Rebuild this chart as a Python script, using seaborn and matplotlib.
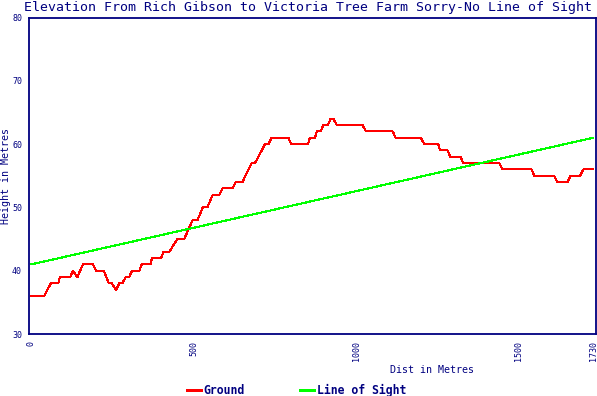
import matplotlib
matplotlib.use("Agg")
import matplotlib.pyplot as plt
import seaborn as sns
import pandas as pd

# ground profile (distance in m, elevation in m)
ground_dist = [0, 40, 60, 83, 88, 120, 128, 142, 159, 190, 200, 223, 239, 248,
               261, 271, 280, 291, 302, 310, 333, 340, 368, 371, 400, 407, 425,
               450, 471, 497, 512, 528, 542, 559, 579, 589, 619, 630, 650, 679,
               689, 720, 730, 740, 792, 800, 852, 858, 874, 879, 891, 899, 913,
               922, 930, 941, 1020, 1031, 1113, 1122, 1200, 1210, 1253, 1259,
               1282, 1290, 1322, 1330, 1441, 1451, 1541, 1549, 1610, 1620, 1651,
               1661, 1690, 1700, 1730]
ground_elev = [36, 36, 38, 38, 39, 39, 40, 39, 41, 41, 40, 40, 38, 38,
               37, 38, 38, 39, 39, 40, 40, 41, 41, 42, 42, 43, 43,
               45, 45, 48, 48, 50, 50, 52, 52, 53, 53, 54, 54, 57,
               57, 60, 60, 61, 61, 60, 60, 61, 61, 62, 62, 63, 63,
               64, 64, 63, 63, 62, 62, 61, 61, 60, 60, 59,
               59, 58, 58, 57, 57, 56, 56, 55, 55, 54, 54,
               55, 55, 56, 56]

# line of sight end points
los_dist = [0, 1730]
los_elev = [41, 61]

x_ticks = [0, 500, 1000, 1500, 1730]
y_ticks = [30, 40, 50, 60, 70, 80]

NAVY = "#000080"

sns.set_style("white")
plt.rcParams["font.family"] = ["DejaVu Sans Mono"]
plt.rcParams["lines.antialiased"] = False

ground = pd.DataFrame({"dist": ground_dist, "elev": ground_elev})
los = pd.DataFrame({"dist": los_dist, "elev": los_elev})

fig = plt.figure(figsize=(5.97, 3.96), dpi=100)
ax = fig.add_axes([29 / 597, 1 - 334 / 396, 567 / 597, 316.5 / 396])

sns.lineplot(data=ground, x="dist", y="elev", color="#ff0000", lw=0.8,
             estimator=None, sort=False, label="Ground", ax=ax)
sns.lineplot(data=los, x="dist", y="elev", color="#00ff00", lw=0.8,
             estimator=None, sort=False, label="Line of Sight", ax=ax)

ax.set_xlim(-7, 1739)
ax.set_ylim(30, 80)
ax.set_xticks(x_ticks)
ax.set_yticks(y_ticks)
ax.set_xticklabels([str(t) for t in x_ticks], rotation=90, va="top")
ax.tick_params(direction="in", length=3.5, width=1.2, colors=NAVY,
               labelsize=6, pad=5)
for side in ["left", "bottom", "right", "top"]:
    ax.spines[side].set_color(NAVY)
    ax.spines[side].set_linewidth(1.3)
ax.set_xlabel("")
ax.set_ylabel("")

fig.text(308 / 597, 0.982, "Elevation From Rich Gibson to Victoria Tree Farm Sorry-No Line of Sight",
         ha="center", va="center", color=NAVY, fontsize=9.5)
fig.text(6 / 597, 1 - 176 / 396, "Height in Metres", rotation=90,
         ha="center", va="center", color=NAVY, fontsize=7.2)
fig.text(432 / 597, 1 - 370 / 396, "Dist in Metres",
         ha="center", va="center", color=NAVY, fontsize=7.2)

ax.get_legend().remove()
handles, labels = ax.get_legend_handles_labels()
leg = fig.legend(handles, labels, loc="center", bbox_to_anchor=(0.497, 1 - 390 / 396),
                 ncol=2, frameon=False, handlelength=1.2, handletextpad=0.25,
                 columnspacing=4.8, prop={"weight": "bold", "size": 8.3})
for t in leg.get_texts():
    t.set_color(NAVY)
for h in leg.get_lines():
    h.set_linewidth(2)

fig.savefig("out.png", dpi=100)
